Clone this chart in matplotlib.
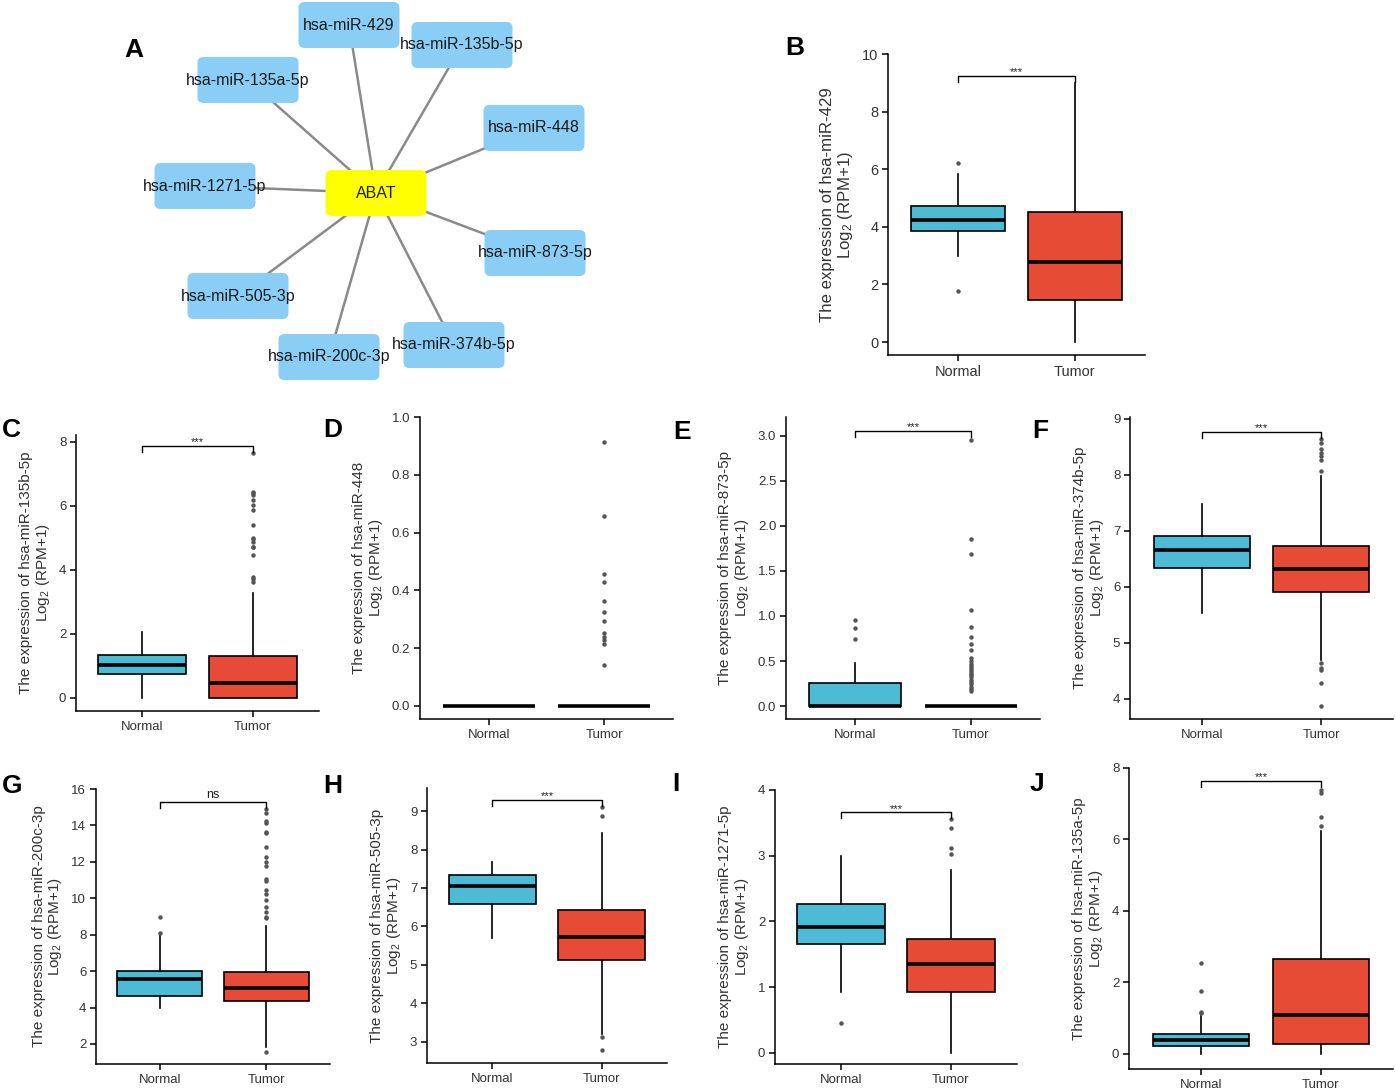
import numpy as np
import matplotlib.pyplot as plt
from matplotlib.patches import FancyBboxPatch

plt.rcParams['font.family'] = ['Liberation Sans', 'DejaVu Sans']
plt.rcParams['mathtext.fontset'] = 'custom'
plt.rcParams['mathtext.rm'] = 'Liberation Sans'
plt.rcParams['mathtext.it'] = 'Liberation Sans:italic'

# ------------------------------------------------------------------ #
#                              Data                                  #
# ------------------------------------------------------------------ #

# panel A : ABAT / miRNA network
hub = "ABAT"
targets = ["hsa-miR-429", "hsa-miR-135b-5p", "hsa-miR-448", "hsa-miR-873-5p",
           "hsa-miR-374b-5p", "hsa-miR-200c-3p", "hsa-miR-505-3p",
           "hsa-miR-1271-5p", "hsa-miR-135a-5p"]

# panels B-J : expression boxplots
groups = ["Normal", "Tumor"]
panel_ids = ["B", "C", "D", "E", "F", "G", "H", "I", "J"]
panel_mirna = ["hsa-miR-429", "hsa-miR-135b-5p", "hsa-miR-448",
               "hsa-miR-873-5p", "hsa-miR-374b-5p", "hsa-miR-200c-3p",
               "hsa-miR-505-3p", "hsa-miR-1271-5p", "hsa-miR-135a-5p"]

# (whisker low, q1, median, q3, whisker high)
normal_box = [(2.99, 3.85, 4.23, 4.73, 5.83),
              (0.0, 0.76, 1.04, 1.35, 2.06),
              (0.0, 0.0, 0.0, 0.0, 0.0),
              (0.0, 0.0, 0.0, 0.26, 0.48),
              (5.53, 6.34, 6.65, 6.91, 7.47),
              (4.0, 4.64, 5.56, 6.02, 7.98),
              (5.69, 6.58, 7.05, 7.33, 7.68),
              (0.93, 1.66, 1.91, 2.26, 3.0),
              (0.0, 0.23, 0.4, 0.57, 1.05)]
tumor_box = [(0.0, 1.47, 2.78, 4.52, 8.98),
             (0.0, 0.0, 0.45, 1.31, 3.28),
             (0.0, 0.0, 0.0, 0.0, 0.0),
             (0.0, 0.0, 0.0, 0.0, 0.0),
             (4.70, 5.90, 6.31, 6.73, 7.97),
             (1.84, 4.35, 5.05, 5.96, 8.5),
             (3.2, 5.12, 5.73, 6.44, 8.44),
             (0.0, 0.92, 1.35, 1.73, 2.79),
             (0.0, 0.29, 1.1, 2.66, 6.23)]

normal_out = [[6.21, 1.77],
              [],
              [],
              [0.75, 0.87, 0.95],
              [],
              [8.12, 8.98],
              [],
              [0.46],
              [1.15, 1.17, 1.75, 2.55]]
tumor_out = [[],
             [3.63, 3.7, 3.78, 4.46, 4.7, 4.72, 4.88, 4.95, 4.98, 5.39, 5.86,
              6.02, 6.18, 6.33, 6.4, 6.44, 7.64],
             [0.141, 0.216, 0.228, 0.239, 0.251, 0.295, 0.324, 0.364, 0.428,
              0.456, 0.658, 0.913],
             [0.17, 0.19, 0.21, 0.24, 0.27, 0.29, 0.32, 0.34, 0.36, 0.38,
              0.40, 0.42, 0.45, 0.47, 0.5, 0.53, 0.62, 0.69, 0.77, 0.88,
              1.07, 1.69, 1.85, 2.96],
             [3.88, 4.29, 4.52, 4.55, 4.64, 8.06, 8.27, 8.33, 8.39, 8.46,
              8.57, 8.63],
             [1.57, 8.89, 8.99, 9.26, 9.53, 9.9, 10.21, 10.45, 10.96, 11.04,
              11.77, 12.0, 12.28, 12.83, 13.56, 13.66, 14.11, 14.26, 14.66,
              14.88],
             [2.78, 3.13, 8.87, 9.11],
             [3.03, 3.11, 3.42, 3.56],
             [6.37, 6.63, 7.3, 7.39]]

signif = ["***", "***", None, "***", "***", "ns", "***", "***", "***"]

# ------------------------------------------------------------------ #
#                              Layout                                #
# ------------------------------------------------------------------ #

W, H = 1396, 1092
fig = plt.figure(figsize=(W / 100, H / 100), dpi=100)


def px_rect(l, t, r, b):
    return [l / W, 1 - b / H, (r - l) / W, (b - t) / H]


# network node centres (pixels)
node_xy = {"ABAT": (376, 193),
           "hsa-miR-429": (349, 25), "hsa-miR-135b-5p": (462, 45),
           "hsa-miR-448": (534, 128), "hsa-miR-873-5p": (535, 253),
           "hsa-miR-374b-5p": (454, 345), "hsa-miR-200c-3p": (329, 357),
           "hsa-miR-505-3p": (238, 296), "hsa-miR-1271-5p": (205, 186),
           "hsa-miR-135a-5p": (248, 80)}

# axes box (left, top, right, bottom px), y-limits, y-ticks, bracket y
panel_layout = {
    "B": ((888, 54, 1145, 355), (-0.45, 10.0), np.arange(0, 11, 2), 9.25),
    "C": ((76, 435, 319, 711), (-0.41, 8.21), np.arange(0, 9, 2), 7.87),
    "D": ((420, 417, 673, 719), (-0.045, 1.0), np.arange(0, 1.01, 0.2), None),
    "E": ((786, 417, 1040, 719), (-0.144, 3.21), np.arange(0, 3.01, 0.5), 3.06),
    "F": ((1130, 417, 1393, 719), (3.64, 9.03), np.arange(4, 10, 1), 8.77),
    "G": ((96, 789, 330, 1064), (0.9, 16.0), np.arange(2, 17, 2), 15.27),
    "H": ((427, 788, 667, 1063), (2.45, 9.6), np.arange(3, 10, 1), 9.29),
    "I": ((775, 790, 1017, 1064), (-0.17, 4.0), np.arange(0, 5, 1), 3.66),
    "J": ((1129, 768, 1393, 1069), (-0.42, 8.0), np.arange(0, 9, 2), 7.64),
}

letter_xy = {"A": (134, 50), "B": (795, 48), "C": (11, 430), "D": (333, 430),
             "E": (682, 432), "F": (1040, 431), "G": (12, 786),
             "H": (333, 786), "I": (676, 784), "J": (1037, 784)}

col_normal = "#4DBBD5"
col_tumor = "#E64B35"

# ------------------------------------------------------------------ #
#                        Panel A : network                           #
# ------------------------------------------------------------------ #

axn = fig.add_axes(px_rect(100, 0, 620, 390))
axn.set_xlim(100, 620)
axn.set_ylim(390, 0)
axn.axis('off')

hx, hy = node_xy[hub]
for t in targets:
    tx, ty = node_xy[t]
    axn.plot([hx, tx], [hy, ty], color='#8a8a8a', lw=1.8, zorder=1)

bw, bh = 101, 46
for name in [hub] + targets:
    x, y = node_xy[name]
    fc = '#FFFF00' if name == hub else '#8ACEF5'
    axn.add_patch(FancyBboxPatch((x - bw / 2, y - bh / 2), bw, bh,
                                 boxstyle="round,pad=0,rounding_size=6",
                                 fc=fc, ec='none', zorder=2))
    axn.text(x, y, name, ha='center', va='center', fontsize=11.5,
             color='#1a1a1a', zorder=3)

# ------------------------------------------------------------------ #
#                      Panels B-J : boxplots                         #
# ------------------------------------------------------------------ #

for i, pid in enumerate(panel_ids):
    rect, ylim, yticks, by = panel_layout[pid]
    scale = 1.1 if pid == "B" else 1.0
    ax = fig.add_axes(px_rect(*rect))

    stats = []
    for box, out, lab in [(normal_box[i], normal_out[i], groups[0]),
                          (tumor_box[i], tumor_out[i], groups[1])]:
        stats.append(dict(whislo=box[0], q1=box[1], med=box[2], q3=box[3],
                          whishi=box[4], fliers=out, label=lab))

    bp = ax.bxp(stats, positions=[1, 2], widths=0.8, patch_artist=True,
                showcaps=False,
                boxprops=dict(linewidth=1.2, edgecolor='black'),
                medianprops=dict(color='black', linewidth=2.6,
                                 solid_capstyle='butt'),
                whiskerprops=dict(linewidth=1.2, color='black'),
                flierprops=dict(marker='o', markersize=3.2,
                                markerfacecolor='#555555',
                                markeredgecolor='none'))
    for patch, c in zip(bp['boxes'], [col_normal, col_tumor]):
        patch.set_facecolor(c)

    ax.set_xlim(0.4, 2.6)
    ax.set_ylim(*ylim)
    ax.set_yticks(yticks)
    if pid in ("D", "E"):
        ax.set_yticklabels([f"{v:.1f}" for v in yticks])
    ax.set_xticks([1, 2])
    ax.set_xticklabels(groups)

    for s in ['top', 'right']:
        ax.spines[s].set_visible(False)
    for s in ['left', 'bottom']:
        ax.spines[s].set_linewidth(1.1)
    ax.tick_params(length=4, width=1.1, labelsize=9.5 * scale,
                   labelcolor='#333333', pad=3)
    ax.set_ylabel(f"The expression of {panel_mirna[i]}\nLog$_2$ (RPM+1)",
                  fontsize=11 * scale, color='#333333', linespacing=1.05,
                  labelpad=5)

    if signif[i] is not None:
        tip = (ylim[1] - ylim[0]) * 0.022
        ax.plot([1, 1, 2, 2], [by - tip, by, by, by - tip], color='black',
                lw=1.0, clip_on=False)
        ax.annotate(signif[i], (1.5, by), xytext=(0, 1 if signif[i] == "ns" else -1),
                    textcoords='offset points', ha='center', va='bottom',
                    fontsize=9 if signif[i] == "ns" else 8, color='#222222')

for let, (x, y) in letter_xy.items():
    fig.text(x / W, 1 - y / H, let, ha='center', va='center',
             fontsize=19, fontweight='bold')

fig.savefig("out.png", dpi=100, facecolor='white')
